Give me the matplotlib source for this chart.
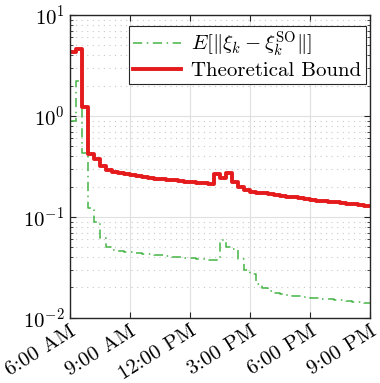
import numpy as np
import matplotlib
matplotlib.use("Agg")
import matplotlib.pyplot as plt
import matplotlib.transforms as mtransforms
from matplotlib.ticker import LogLocator, NullFormatter

plt.rcParams['font.family'] = ['cmr10', 'DejaVu Serif']
plt.rcParams['mathtext.fontset'] = 'cm'
plt.rcParams['axes.formatter.use_mathtext'] = True

# time in hours, one value every 0.3 h from 6:00 to 21:00
t_start = 6.0
t_step = 0.3

bound = [4.30, 4.58, 1.23, 0.42, 0.375, 0.32, 0.29, 0.280, 0.272, 0.265,
         0.258, 0.253, 0.248, 0.244, 0.240, 0.236, 0.233, 0.230, 0.227, 0.224,
         0.221, 0.219, 0.216, 0.213, 0.267, 0.243, 0.275, 0.224, 0.200, 0.185,
         0.178, 0.174, 0.171, 0.168, 0.165, 0.162, 0.159, 0.156, 0.153, 0.150,
         0.148, 0.145, 0.143, 0.141, 0.139, 0.137, 0.135, 0.133, 0.131, 0.129]

err = [0.90, 2.2, 0.43, 0.123, 0.090, 0.062, 0.050, 0.047, 0.046, 0.045,
       0.0445, 0.044, 0.043, 0.0425, 0.042, 0.0415, 0.041, 0.0405, 0.040, 0.0395,
       0.039, 0.0385, 0.038, 0.0378, 0.0375, 0.059, 0.050, 0.048, 0.038, 0.030,
       0.027, 0.0217, 0.0197, 0.0185, 0.0175, 0.0172, 0.0169, 0.0166, 0.0163, 0.0161,
       0.0159, 0.0157, 0.0155, 0.0153, 0.0151, 0.0149, 0.0147, 0.0145, 0.0143, 0.0141]

xticks = [6, 9, 12, 15, 18, 21]
xticklabels = ['6:00 AM', '9:00 AM', '12:00 PM', '3:00 PM', '6:00 PM', '9:00 PM']

t = t_start + t_step * np.arange(len(bound) + 1)
b = np.append(bound, bound[-1])
e = np.append(err, err[-1])

fig = plt.figure(figsize=(3.8, 3.83), dpi=100)
ax = fig.add_axes([0.184, 0.170, 0.790, 0.791])

ax.step(t, e, where='post', color='#45b445', lw=1.1, ls=(0, (6, 3, 1, 3)),
        label=r'$E[\|\xi_k - \xi_k^{\mathrm{SO}}\|]$')
ax.step(t, b, where='post', color='#e41a1c', lw=2.8, label='Theoretical Bound')

ax.set_yscale('log')
ax.set_ylim(1e-2, 1e1)
ax.set_xlim(6, 21)
ax.set_xticks(xticks)
ax.set_xticklabels(xticklabels, rotation=32, ha='right', rotation_mode='anchor')
shift = mtransforms.ScaledTranslation(6 / 100, 0, fig.dpi_scale_trans)
for lab in ax.get_xticklabels():
    lab.set_transform(lab.get_transform() + shift)
ax.yaxis.set_minor_locator(LogLocator(base=10, subs=np.arange(2, 10)))
ax.yaxis.set_minor_formatter(NullFormatter())

ax.grid(True, which='major', color='#e0e0e0', lw=0.8)
ax.grid(True, which='minor', axis='y', color='#c8c8c8', lw=0.8, ls=(0, (1, 4)))
ax.set_axisbelow(True)

ax.tick_params(which='both', direction='in', top=True, right=True,
               labelsize=15, color='#262626', pad=4)
ax.tick_params(axis='x', which='major', pad=3)
ax.tick_params(which='major', length=4)
ax.tick_params(which='minor', length=2.5)
for s in ax.spines.values():
    s.set_color('#262626')
    s.set_linewidth(1.0)

leg = ax.legend(loc='upper right', bbox_to_anchor=(0.985, 0.965), fontsize=15,
                fancybox=False, framealpha=1, edgecolor='#262626',
                borderpad=0.2, handlelength=2.3, handletextpad=0.5,
                labelspacing=0.1, borderaxespad=0.0)
leg.get_frame().set_linewidth(0.8)

fig.savefig('out.png', dpi=100)
